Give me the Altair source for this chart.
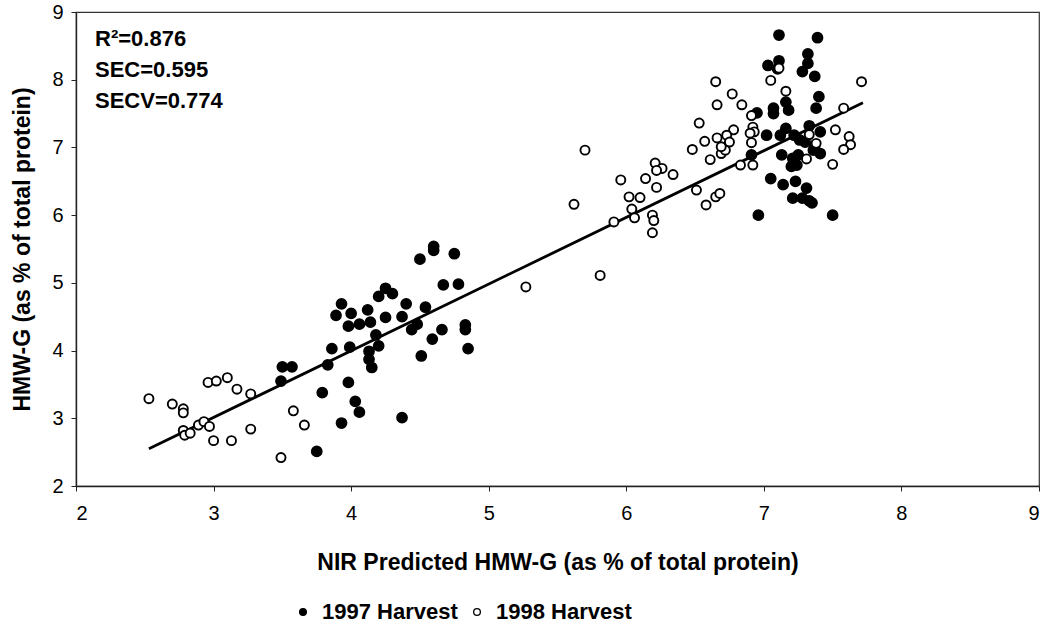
import altair as alt
import pandas as pd

# NIR predicted vs. measured HMW-G, two harvest years
x_1997 = [3.50, 3.57, 3.49, 3.93, 3.89, 4.00, 3.98, 4.06, 3.86, 3.99, 3.83, 3.79, 3.98, 4.03, 4.06, 3.93, 3.75,
          4.60, 4.60, 4.50, 4.75, 4.67, 4.78, 4.12, 4.14, 4.25, 4.20, 4.30, 4.25, 4.40, 4.37, 4.54, 4.48, 4.44,
          4.66, 4.59, 4.83, 4.83, 4.85, 4.51, 4.18, 4.20, 4.13, 4.13, 4.15, 4.37,
          7.11, 7.39, 7.32, 7.11, 7.03, 7.10, 7.32, 7.28, 7.37, 7.16, 7.18, 7.07, 7.07, 7.40, 7.38, 6.95, 7.02,
          6.91, 7.12, 7.16, 7.22, 7.33, 7.41, 7.26, 7.30, 7.37, 7.41, 7.36, 7.13, 7.21, 7.25, 7.20, 7.24, 7.05,
          7.14, 7.23, 7.31, 7.21, 7.28, 7.33, 7.35, 6.96, 7.50]
y_1997 = [3.76, 3.76, 3.55, 4.69, 4.52, 4.55, 4.36, 4.39, 4.03, 4.05, 3.79, 3.38, 3.53, 3.25, 3.09, 2.93, 2.51,
          5.54, 5.48, 5.35, 5.43, 4.97, 4.98, 4.60, 4.42, 4.92, 4.80, 4.84, 4.49, 4.69, 4.50, 4.64, 4.39, 4.31,
          4.31, 4.17, 4.38, 4.31, 4.03, 3.92, 4.23, 4.07, 3.99, 3.87, 3.75, 3.01,
          8.66, 8.62, 8.38, 8.28, 8.21, 8.16, 8.24, 8.12, 8.05, 7.67, 7.55, 7.58, 7.50, 7.75, 7.58, 7.51, 7.18,
          6.89, 7.18, 7.28, 7.18, 7.32, 7.23, 7.11, 7.08, 7.03, 6.91, 6.96, 6.89, 6.84, 6.89, 6.72, 6.74, 6.54,
          6.45, 6.50, 6.40, 6.25, 6.25, 6.21, 6.18, 6.00, 6.00]

x_1998 = [2.53, 2.70, 2.78, 2.78, 2.96, 3.02, 3.10, 3.17, 3.27, 2.78, 2.79, 2.83, 2.89, 2.93, 2.97, 3.00, 3.13,
          3.27, 3.49, 3.58, 3.66,
          5.27, 5.70, 5.62, 5.81, 5.91, 5.96, 6.02, 6.10, 6.04, 6.06, 6.14, 6.21, 6.26, 6.22, 6.22, 6.34, 6.19,
          6.20, 6.19, 6.51, 6.58, 6.65, 6.68, 6.48, 6.61, 6.69,
          6.65, 6.77, 6.66, 6.84, 6.53, 6.78, 6.73, 6.66, 6.57, 6.75, 6.72, 6.69, 6.91, 6.92, 6.93, 6.90, 6.91,
          6.83, 6.92, 7.11, 7.05, 7.16, 7.71, 7.58, 7.52, 7.62, 7.63, 7.58, 7.50, 7.33, 7.38, 7.31]
y_1998 = [3.29, 3.21, 3.14, 3.08, 3.53, 3.55, 3.60, 3.43, 3.36, 2.82, 2.75, 2.78, 2.90, 2.95, 2.88, 2.67, 2.67,
          2.84, 2.42, 3.11, 2.90,
          4.94, 6.96, 6.16, 5.11, 5.90, 6.52, 6.27, 6.26, 6.09, 5.96, 6.54, 6.77, 6.69, 6.66, 6.41, 6.60, 6.00,
          5.92, 5.74, 6.37, 6.15, 6.27, 6.32, 6.97, 6.82, 6.91,
          7.97, 7.79, 7.63, 7.63, 7.36, 7.26, 7.18, 7.14, 7.09, 7.08, 6.96, 7.01, 7.47, 7.30, 7.23, 7.21, 7.07,
          6.74, 6.74, 8.17, 7.99, 7.83, 7.97, 7.58, 7.26, 7.16, 7.04, 6.97, 6.75, 7.19, 7.06, 6.83]

# calibration line
fit_x = [2.53, 7.72]
fit_y = [2.55, 7.66]

stats_text = ["R\u00b2=0.876", "SEC=0.595", "SECV=0.774"]
harvests = ["1997 Harvest", "1998 Harvest"]
ticks = [2, 3, 4, 5, 6, 7, 8, 9]

FONT = "Liberation Sans"

points = pd.DataFrame({
    "pred": x_1997 + x_1998,
    "meas": y_1997 + y_1998,
    "harvest": [harvests[0]] * len(x_1997) + [harvests[1]] * len(x_1998),
})
fit = pd.DataFrame({"pred": fit_x, "meas": fit_y})

x_enc = alt.X("pred:Q", scale=alt.Scale(domain=[2, 9], nice=False),
              axis=alt.Axis(values=ticks, title="NIR Predicted HMW-G (as % of total protein)"))
y_enc = alt.Y("meas:Q", scale=alt.Scale(domain=[2, 9], nice=False),
              axis=alt.Axis(values=ticks, title="HMW-G (as % of total protein)"))

fill_enc = alt.Fill(
    "harvest:N",
    scale=alt.Scale(domain=harvests, range=["black", "white"]),
    legend=alt.Legend(title=None, orient="none", direction="horizontal",
                      legendX=216, legendY=589, symbolType="circle",
                      symbolSize=45, symbolStrokeColor="black", symbolStrokeWidth=1.3,
                      labelFont=FONT, labelFontSize=22, labelFontWeight="bold",
                      labelColor="black", labelOffset=8, columnPadding=8),
)

line = alt.Chart(fit).mark_line(color="black", strokeWidth=2.8).encode(x=x_enc, y=y_enc)

base = alt.Chart(points).encode(x=x_enc, y=y_enc, fill=fill_enc)

# filled discs (1997) and open rings (1998)
dots_1997 = base.transform_filter(alt.datum.harvest == harvests[0]).mark_point(
    filled=False, stroke="black", strokeWidth=1.5, opacity=1, size=105)
dots_1998 = base.transform_filter(alt.datum.harvest == harvests[1]).mark_point(
    filled=False, stroke="black", strokeWidth=1.9, opacity=1, size=82)

stats = [
    alt.Chart(pd.DataFrame({"t": [s]})).mark_text(
        align="left", baseline="middle", font=FONT, fontSize=22, fontWeight="bold", color="black"
    ).encode(text="t:N", x=alt.value(19), y=alt.value(27 + 31 * i))
    for i, s in enumerate(stats_text)
]

chart = alt.layer(line, dots_1997, dots_1998, *stats).properties(
    width=963, height=474,
    autosize=alt.AutoSizeParams(type="none"),
    padding={"left": 76, "top": 12, "right": 4, "bottom": 145},
    background="white",
).configure_view(
    stroke="#333", strokeWidth=1.2
).configure_axis(
    grid=False, domainColor="#222", domainWidth=1.4, tickColor="#222", tickSize=5,
    labelFont=FONT, labelFontSize=20, labelColor="black",
    titleFont=FONT, titleFontSize=23, titleFontWeight="bold", titleColor="black",
).configure_axisX(
    labelPadding=12, titlePadding=28
).configure_axisY(
    labelPadding=8, titlePadding=17
)

chart.save("out.html", embed_options={"renderer": "svg", "actions": False})
